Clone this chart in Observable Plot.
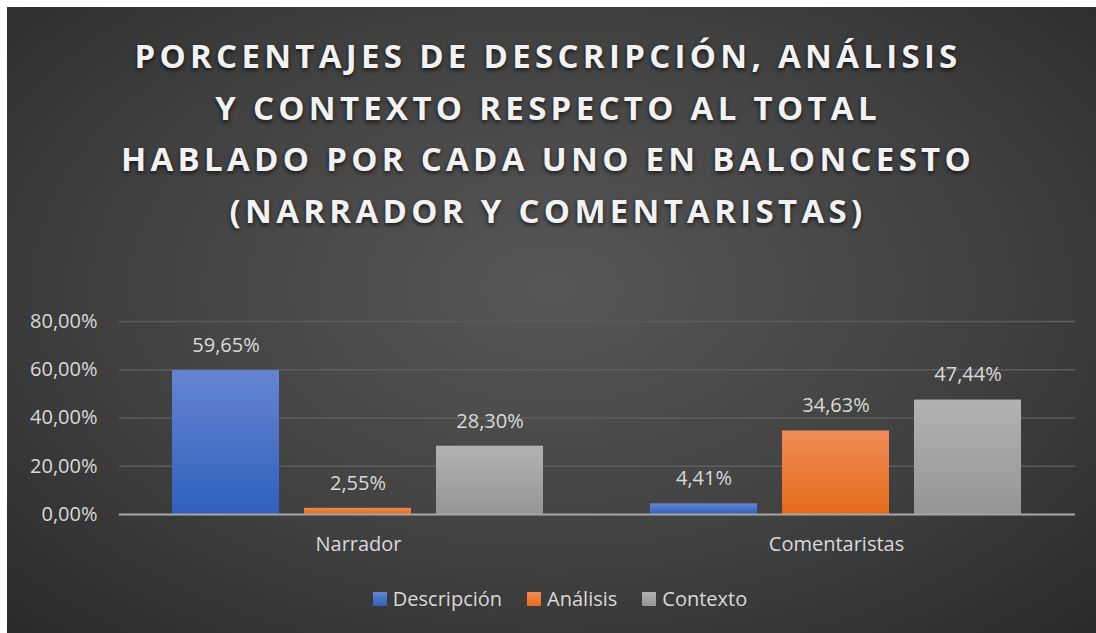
<!DOCTYPE html>
<html>
<head>
<meta charset="utf-8">
<script src="https://cdn.jsdelivr.net/npm/d3@7"></script>
<script src="https://cdn.jsdelivr.net/npm/@observablehq/plot@0.6"></script>
<style>
  html, body { margin: 0; padding: 0; background: #ffffff; }
  #frame { position: relative; width: 1096px; height: 633px; overflow: hidden; background: #ffffff; }
  #card {
    position: absolute; left: 7px; top: 7px; width: 1089px; height: 626px;
    background: radial-gradient(ellipse 75% 80% at 50% 45%, #575757 0%, #404040 55%, #282828 100%);
  }
  #title {
    position: absolute; left: 0; top: 30px; width: 1096px; text-align: center;
    font-family: "Open Sans", sans-serif; font-weight: 700; font-size: 33px;
    letter-spacing: 4.3px; line-height: 51.5px; color: #f2f2f2;
    text-shadow: 0 2px 4px rgba(0,0,0,0.7);
  }
  #chart { position: absolute; left: 0; top: 300px; }
  #legend {
    position: absolute; left: 0; top: 585px; width: 1096px; display: flex; justify-content: center;
    font-family: "Open Sans", sans-serif; font-size: 20px; color: #d9d9d9; gap: 25px; padding-left: 24px; box-sizing: border-box;
  }
  .item { display: flex; align-items: center; gap: 6px; }
  .sw { width: 14px; height: 14px; display: inline-block; }
</style>
</head>
<body>
<div id="frame">
  <div id="card"></div>
  <div id="title">PORCENTAJES DE DESCRIPCIÓN, ANÁLISIS<br>Y CONTEXTO RESPECTO AL TOTAL<br>HABLADO POR CADA UNO EN BALONCESTO<br>(NARRADOR Y COMENTARISTAS)</div>
  <div id="chart"></div>
  <div id="legend"></div>
</div>
<script>
const categories = ["Narrador", "Comentaristas"];
const series = ["Descripción", "Análisis", "Contexto"];
const descripcion = [59.65, 4.41];
const analisis = [2.55, 34.63];
const contexto = [28.30, 47.44];
const yTicks = [0, 20, 40, 60, 80];

const seriesValues = [descripcion, analisis, contexto];
const gradIds = ["gDesc", "gAna", "gCon"];
const gradStops = [["#6585d1", "#2f60bc"], ["#f08b57", "#e56b19"], ["#b2b2b2", "#959595"]];

const data = [];
categories.forEach((c, ci) => {
  series.forEach((s, si) => {
    data.push({category: c, series: s, value: seriesValues[si][ci]});
  });
});

const fmt = v => v.toFixed(2).replace(".", ",") + "%";
const fill = d => `url(#${gradIds[series.indexOf(d.series)]})`;

const chart = Plot.plot({
  width: 1096,
  height: 270,
  marginTop: 21,
  marginBottom: 56,
  marginLeft: 118,
  marginRight: 21,
  style: {background: "transparent", color: "#d9d9d9", fontFamily: "Open Sans, sans-serif", fontSize: "20px", overflow: "visible"},
  fx: {domain: categories, padding: 0, label: null},
  x: {domain: series, paddingInner: 0.188, paddingOuter: 0.393, axis: null},
  y: {domain: [0, 80], ticks: yTicks, label: null},
  marks: [
    Plot.gridY(yTicks, {stroke: "#5c5c5c", strokeOpacity: 1, strokeWidth: 1.5}),
    Plot.axisY(yTicks, {tickSize: 0, tickPadding: 22, tickFormat: fmt, fontSize: 20, fill: "#d9d9d9", label: null}),
    Plot.axisFx({anchor: "bottom", tickSize: 0, tickPadding: 22, fontSize: 20, fill: "#d9d9d9", label: null}),
    Plot.barY(data, {fx: "category", x: "series", y: "value", fill: fill,
      style: {filter: "drop-shadow(2px 2px 3px rgba(0,0,0,0.45))"}}),
    Plot.ruleY([0], {stroke: "#a6a6a6", strokeWidth: 2}),
    Plot.text(data, {fx: "category", x: "series", y: "value", text: d => fmt(d.value), dy: -25, fill: "#d9d9d9", fontSize: 20})
  ]
});

const ns = "http://www.w3.org/2000/svg";
const defs = document.createElementNS(ns, "defs");
gradIds.forEach((id, i) => {
  const g = document.createElementNS(ns, "linearGradient");
  g.setAttribute("id", id);
  g.setAttribute("x1", "0"); g.setAttribute("y1", "0");
  g.setAttribute("x2", "0"); g.setAttribute("y2", "1");
  [[0, gradStops[i][0]], [1, gradStops[i][1]]].forEach(([o, c]) => {
    const st = document.createElementNS(ns, "stop");
    st.setAttribute("offset", o);
    st.setAttribute("stop-color", c);
    g.appendChild(st);
  });
  defs.appendChild(g);
});
chart.insertBefore(defs, chart.firstChild);
document.getElementById("chart").appendChild(chart);

const legend = document.getElementById("legend");
series.forEach((s, i) => {
  const it = document.createElement("div");
  it.className = "item";
  const sw = document.createElement("span");
  sw.className = "sw";
  sw.style.background = `linear-gradient(${gradStops[i][0]}, ${gradStops[i][1]})`;
  const t = document.createElement("span");
  t.textContent = s;
  it.appendChild(sw); it.appendChild(t);
  legend.appendChild(it);
});
</script>
</body>
</html>
